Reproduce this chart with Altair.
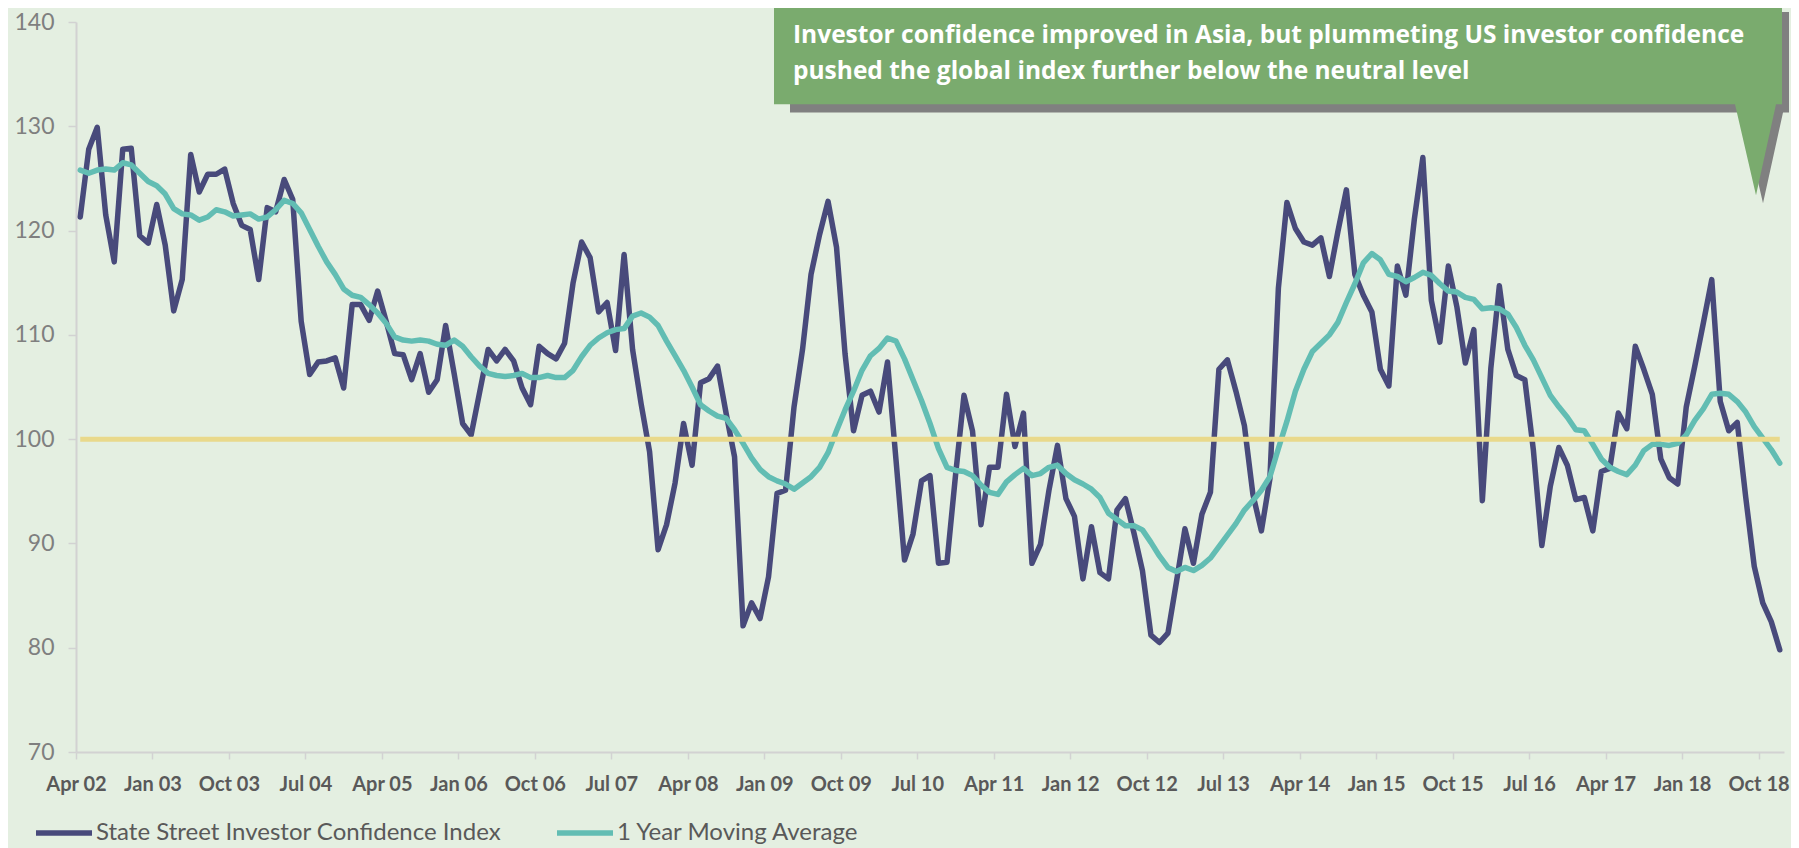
import altair as alt
import pandas as pd

# ---- data (monthly, Apr 2002 .. Dec 2018) ----
index_values = [
    121.3, 127.8, 129.9, 121.5, 117.0, 127.8, 127.9, 119.5, 118.8, 122.5,
    118.6, 112.3, 115.3, 127.3, 123.7, 125.4, 125.4, 125.9, 122.6, 120.5,
    120.1, 115.3, 122.2, 121.8, 124.9, 123.0, 111.3, 106.2, 107.4, 107.5,
    107.8, 104.9, 112.9, 112.9, 111.4, 114.2, 111.3, 108.2, 108.1, 105.7,
    108.2, 104.5, 105.7, 110.9, 106.3, 101.5, 100.4, 104.5, 108.6, 107.5,
    108.6, 107.5, 104.9, 103.3, 108.9, 108.2, 107.7, 109.2, 115.0, 118.9,
    117.4, 112.2, 113.1, 108.5, 117.7, 108.6, 103.4, 98.8, 89.4, 91.8,
    95.8, 101.5, 97.5, 105.4, 105.8, 107.0, 102.5, 98.3, 82.1, 84.3,
    82.8, 86.8, 94.8, 95.1, 103.1, 108.6, 115.8, 119.6, 122.8, 118.4,
    108.2, 100.8, 104.2, 104.6, 102.6, 107.4, 98.0, 88.4, 90.9, 96.0,
    96.5, 88.1, 88.2, 96.5, 104.2, 100.8, 91.8, 97.3, 97.3, 104.3,
    99.3, 102.5, 88.1, 89.9, 95.1, 99.4, 94.3, 92.6, 86.6, 91.6,
    87.2, 86.6, 93.2, 94.3, 91.0, 87.4, 81.2, 80.5, 81.4, 86.3,
    91.4, 88.1, 92.8, 94.9, 106.7, 107.6, 104.6, 101.3, 94.7, 91.2,
    96.2, 114.5, 122.7, 120.2, 118.9, 118.6, 119.3, 115.6, 119.9, 123.9,
    115.8, 113.8, 112.2, 106.7, 105.1, 116.6, 113.8, 121.1, 127.0, 113.3,
    109.3, 116.6, 112.7, 107.3, 110.5, 94.1, 106.8, 114.7, 108.6, 106.1,
    105.7, 99.0, 89.8, 95.5, 99.2, 97.5, 94.2, 94.4, 91.2, 96.9,
    97.2, 102.5, 101.0, 108.9, 106.7, 104.3, 98.1, 96.3, 95.7, 103.1,
    107.0, 111.1, 115.3, 103.6, 100.8, 101.6, 94.4, 87.8, 84.3, 82.5,
    79.8,
]
moving_avg = [
    125.8, 125.5, 125.8, 125.9, 125.8, 126.5, 126.3, 125.5, 124.7, 124.3,
    123.5, 122.1, 121.6, 121.5, 121.0, 121.3, 122.0, 121.8, 121.4, 121.5,
    121.6, 121.1, 121.3, 122.0, 122.9, 122.6, 121.7, 120.1, 118.5, 117.0,
    115.8, 114.4, 113.8, 113.6, 112.9, 112.1, 111.1, 109.8, 109.5, 109.4,
    109.5, 109.4, 109.1, 109.0, 109.5, 108.9, 107.9, 107.0, 106.3, 106.1,
    106.0, 106.1, 106.3, 105.9, 105.9, 106.1, 105.9, 105.9, 106.6, 107.9,
    109.0, 109.7, 110.2, 110.5, 110.6, 111.8, 112.1, 111.7, 110.9, 109.4,
    108.0, 106.6, 105.0, 103.3, 102.7, 102.2, 102.0, 100.9, 99.6, 98.2,
    97.1, 96.4, 96.0, 95.7, 95.2, 95.8, 96.4, 97.3, 98.7, 100.8,
    102.8, 104.6, 106.6, 108.0, 108.7, 109.7, 109.4, 107.7, 105.7, 103.7,
    101.5, 99.1, 97.3, 97.0, 96.9, 96.5, 95.6, 94.9, 94.7, 95.9,
    96.6, 97.2, 96.5, 96.7, 97.3, 97.5, 96.7, 96.1, 95.7, 95.2,
    94.4, 92.9, 92.3, 91.7, 91.7, 91.3, 90.1, 88.8, 87.7, 87.3,
    87.7, 87.4, 87.9, 88.6, 89.7, 90.8, 91.9, 93.2, 94.1, 95.1,
    96.4, 99.1, 101.7, 104.6, 106.7, 108.4, 109.2, 110.0, 111.2, 113.1,
    114.9, 116.9, 117.8, 117.2, 115.8, 115.6, 115.1, 115.5, 116.0, 115.7,
    114.9, 114.2, 114.1, 113.6, 113.4, 112.5, 112.6, 112.5, 112.0, 110.7,
    109.0, 107.6, 105.9, 104.2, 103.1, 102.1, 100.9, 100.8, 99.5, 98.1,
    97.3, 96.9, 96.6, 97.5, 98.9, 99.5, 99.5, 99.4, 99.6, 100.4,
    101.8, 102.9, 104.3, 104.4, 104.3, 103.6, 102.6, 101.2, 100.1, 99.0,
    97.7,
]
tick_labels = [
    "Apr 02", "Jan 03", "Oct 03", "Jul 04", "Apr 05", "Jan 06", "Oct 06",
    "Jul 07", "Apr 08", "Jan 09", "Oct 09", "Jul 10", "Apr 11", "Jan 12",
    "Oct 12", "Jul 13", "Apr 14", "Jan 15", "Oct 15", "Jul 16", "Apr 17",
    "Jan 18", "Oct 18",
]
series_names = ["State Street Investor Confidence Index", "1 Year Moving Average"]
neutral_level = 100
note_lines = [
    "Investor confidence improved in Asia, but plummeting US investor confidence",
    "pushed the global index further below the neutral level",
]

NAVY = "#484a7b"
TEAL = "#62bdb3"
YELLOW = "#e9d98b"
BG = "#e4efe1"
BOX = "#7aab6e"
SHADOW = "#808080"
AXIS_GRAY = "#d2d2d2"

n = len(index_values)
df = pd.DataFrame({
    "m": list(range(n)) * 2,
    "value": index_values + moving_avg,
    "series": [series_names[0]] * n + [series_names[1]] * n,
})
df_neutral = pd.DataFrame({"m": [0, n - 1], "value": [neutral_level, neutral_level]})

tick_vals = [-0.5 + 9 * k for k in range(len(tick_labels))]
label_expr = "[" + ",".join("'%s'" % t for t in tick_labels) + "][round((datum.value + 0.5) / 9)]"

W, H = 1708, 730

x_enc = alt.X(
    "m:Q",
    scale=alt.Scale(domain=[-0.5, n - 0.5], nice=False, zero=False),
    axis=alt.Axis(
        values=tick_vals, labelExpr=label_expr, title=None, grid=False,
        labelFont="Lato", labelFontWeight="bold", labelFontSize=20,
        labelColor="#595959", labelPadding=15, tickSize=7, tickColor=AXIS_GRAY,
        tickWidth=1.5, domainColor=AXIS_GRAY, domainWidth=2, labelFlush=False,
        labelOverlap=False,
    ),
)
y_enc = alt.Y(
    "value:Q",
    scale=alt.Scale(domain=[70, 140], nice=False, zero=False),
    axis=alt.Axis(
        values=list(range(70, 141, 10)), title=None, grid=False,
        labelFont="Lato", labelFontSize=23, labelColor="#7f7f7f",
        labelPadding=14, tickSize=8, tickColor=AXIS_GRAY, tickWidth=1.5,
        domainColor=AXIS_GRAY, domainWidth=2,
    ),
)
color_enc = alt.Color(
    "series:N",
    scale=alt.Scale(domain=series_names, range=[NAVY, TEAL]),
    legend=alt.Legend(
        title=None, orient="none", direction="horizontal",
        legendX=-43, legendY=780, symbolType="stroke", symbolSize=3136,
        symbolStrokeWidth=5.5, labelFont="Lato", labelFontSize=24,
        labelColor="#595959", labelOffset=1, columnPadding=44, padding=0,
        labelLimit=600,
    ),
)

LW = 5.5
base = alt.Chart(df)
navy_line = base.transform_filter(alt.datum.series == series_names[0]).mark_line(
    strokeWidth=LW, strokeJoin="round", strokeCap="round"
).encode(x=x_enc, y=y_enc, color=color_enc)
teal_line = base.transform_filter(alt.datum.series == series_names[1]).mark_line(
    strokeWidth=LW, strokeJoin="round", strokeCap="round"
).encode(x=x_enc, y=y_enc, color=color_enc)
neutral_line = alt.Chart(df_neutral).mark_line(
    strokeWidth=5, color=YELLOW, strokeCap="butt"
).encode(x="m:Q", y="value:Q")

# callout shape (pixel units / 100, origin at plot top-left)
box_path = ("M6.98,-0.18 L17.06,-0.18 L17.06,0.823 L17.00,0.823 L16.80,1.732 "
            "L16.59,0.823 L6.98,0.823 Z")
shadow_path = ("M7.14,-0.10 L17.13,-0.10 L17.13,0.904 L17.07,0.904 L16.87,1.813 "
               "L16.66,0.904 L7.14,0.904 Z")
one = pd.DataFrame({"k": [0]})
shadow = alt.Chart(one).mark_point(
    shape=shadow_path, size=40000, filled=True, fill=SHADOW, opacity=1, strokeWidth=0
).encode(x=alt.value(0), y=alt.value(0))
box = alt.Chart(one).mark_point(
    shape=box_path, size=40000, filled=True, fill=BOX, opacity=1, strokeWidth=0
).encode(x=alt.value(0), y=alt.value(0))
note1 = alt.Chart(one).mark_text(
    text=note_lines[0], align="left", baseline="alphabetic", font="Open Sans",
    fontWeight="bold", fontSize=24.5, color="white"
).encode(x=alt.value(717), y=alt.value(21))
note2 = alt.Chart(one).mark_text(
    text=note_lines[1], align="left", baseline="alphabetic", font="Open Sans",
    fontWeight="bold", fontSize=24.5, color="white"
).encode(x=alt.value(717), y=alt.value(57))

chart = alt.layer(
    navy_line, teal_line, neutral_line, shadow, box, note1, note2
).properties(
    width=W, height=H,
    padding={"left": 68, "top": 14, "right": 7, "bottom": 96},
    autosize=alt.AutoSizeParams(type="none"),
    background=BG,
).configure_view(stroke=None)

chart.save("out.html", embed_options={"renderer": "svg", "actions": False})
